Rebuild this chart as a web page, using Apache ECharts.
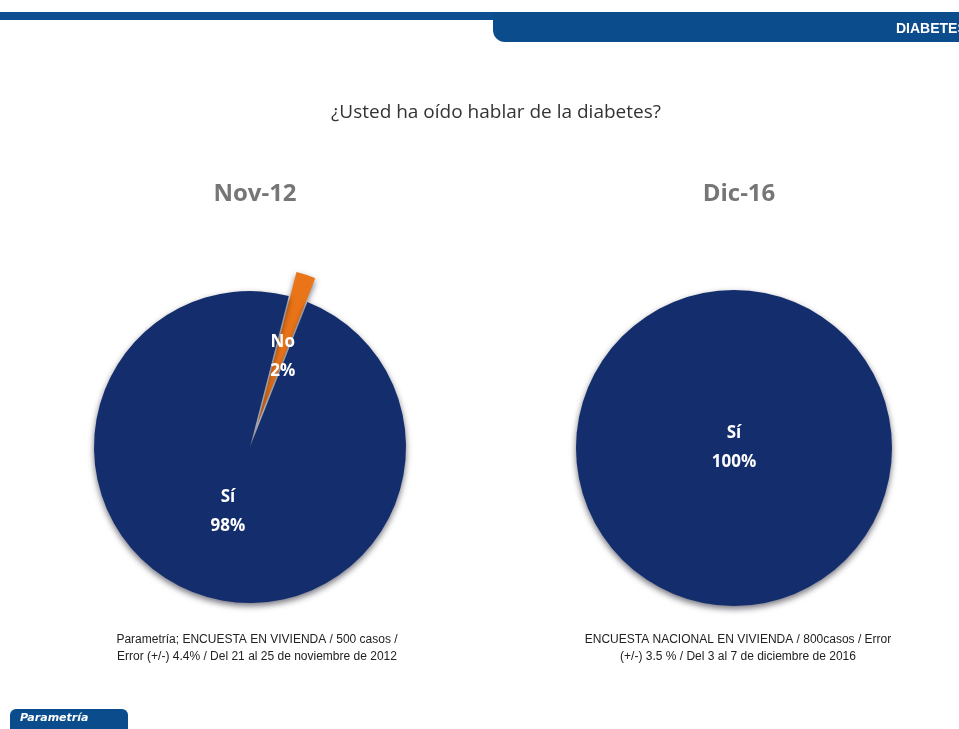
<!DOCTYPE html>
<html>
<head>
<meta charset="utf-8">
<script src="https://cdn.jsdelivr.net/npm/echarts@6/dist/echarts.min.js"></script>
<style>
html,body{margin:0;padding:0;background:#fff;}
#chart{width:959px;height:729px;}
</style>
</head>
<body>
<div id="chart"></div>
<script>
// ---- data ----
const mainTitle = '¿Usted ha oído hablar de la diabetes?';
const periods = ['Nov-12', 'Dic-16'];
const categoriesNov12 = ['No', 'Sí'];
const valuesNov12 = [2, 98];
const categoriesDic16 = ['Sí'];
const valuesDic16 = [100];
const notes = [
  'Parametría; ENCUESTA EN VIVIENDA / 500 casos /\nError (+/-) 4.4% / Del 21 al 25 de noviembre de 2012',
  'ENCUESTA NACIONAL EN VIVIENDA / 800casos / Error\n(+/-) 3.5 % / Del 3 al 7 de diciembre de 2016'
];
const sectionTag = 'DIABETES';
const brand = 'Parametría';

const NAVY = '#142d6c';
const ORANGE = '#ea7418';
const colorMap = { 'Sí': NAVY, 'No': ORANGE };

const chart = echarts.init(document.getElementById('chart'));

const labelStyle = {
  color: '#ffffff',
  fontFamily: 'Open Sans, Noto Sans, sans-serif',
  fontWeight: 'bold',
  fontSize: 17,
  lineHeight: 29,
  formatter: '{b}\n{c}%'
};

const itemBase = {
  shadowBlur: 6,
  shadowColor: 'rgba(0,0,20,0.55)',
  shadowOffsetY: 3
};

const perItemLabel = {
  'No': { formatter: '{s|}\n{b}\n{c}%', rich: { s: { lineHeight: 20, fontSize: 1 } }, offset: [-6, 0] },
  'Sí': { offset: [3, -12] }
};

chart.setOption({
  backgroundColor: '#ffffff',
  animation: false,
  title: [
    { text: mainTitle, left: 491, top: 98, textAlign: 'center',
      textStyle: { fontFamily: 'Open Sans, Noto Sans, sans-serif', fontWeight: 'normal', fontSize: 19, color: '#333' } },
    { text: periods[0], left: 250, top: 177, textAlign: 'center',
      textStyle: { fontFamily: 'Open Sans, Noto Sans, sans-serif', fontWeight: 'bold', fontSize: 24, color: '#767676' } },
    { text: periods[1], left: 734, top: 177, textAlign: 'center',
      textStyle: { fontFamily: 'Open Sans, Noto Sans, sans-serif', fontWeight: 'bold', fontSize: 24, color: '#767676' } },
    { text: notes[0], left: 252, top: 626, textAlign: 'center',
      textStyle: { fontFamily: 'Liberation Sans, sans-serif', fontWeight: 'normal', fontSize: 12, lineHeight: 17, color: '#222' } },
    { text: notes[1], left: 733, top: 626, textAlign: 'center',
      textStyle: { fontFamily: 'Liberation Sans, sans-serif', fontWeight: 'normal', fontSize: 12, lineHeight: 17, color: '#222' } }
  ],
  graphic: [
    { type: 'rect', shape: { x: 0, y: 12, width: 500, height: 8 }, style: { fill: '#0d4f91' }, z: 10 },
    { type: 'rect', shape: { x: 493, y: 12, width: 470, height: 30, r: [0, 0, 0, 12] }, style: { fill: '#0b4c8c' }, z: 10 },
    { type: 'text', left: 896, top: 22, style: { text: sectionTag, fill: '#fff', font: 'bold 14px "Liberation Sans Narrow", "Liberation Sans", sans-serif' }, z: 11 },
    { type: 'rect', shape: { x: 10, y: 709, width: 118, height: 24, r: [6, 6, 0, 0] }, style: { fill: '#0b4c8c' }, z: 10 },
    { type: 'text', left: 20, top: 713, style: { text: brand, fill: '#fff', font: 'italic bold 11px "DejaVu Sans", sans-serif', letterSpacing: 3 }, z: 11 }
  ],
  series: [
    {
      type: 'pie',
      center: [250, 447],
      radius: [0, 156],
      startAngle: 75.6,
      clockwise: true,
      selectedMode: 'multiple',
      selectedOffset: 25,
      label: Object.assign({ position: 'inside' }, labelStyle),
      labelLine: { show: false },
      itemStyle: itemBase,
      emphasis: { disabled: true },
      data: categoriesNov12.map((n, i) => ({
        name: n, value: valuesNov12[i],
        selected: n === 'No',
        itemStyle: { color: colorMap[n] },
        label: perItemLabel[n]
      }))
    },
    {
      type: 'pie',
      center: [734, 448],
      radius: [0, 158],
      startAngle: 90,
      label: Object.assign({ position: 'center' }, labelStyle),
      labelLine: { show: false },
      itemStyle: itemBase,
      emphasis: { disabled: true },
      data: categoriesDic16.map((n, i) => ({
        name: n, value: valuesDic16[i],
        itemStyle: { color: colorMap[n] }
      }))
    }
  ]
});
</script>
</body>
</html>
